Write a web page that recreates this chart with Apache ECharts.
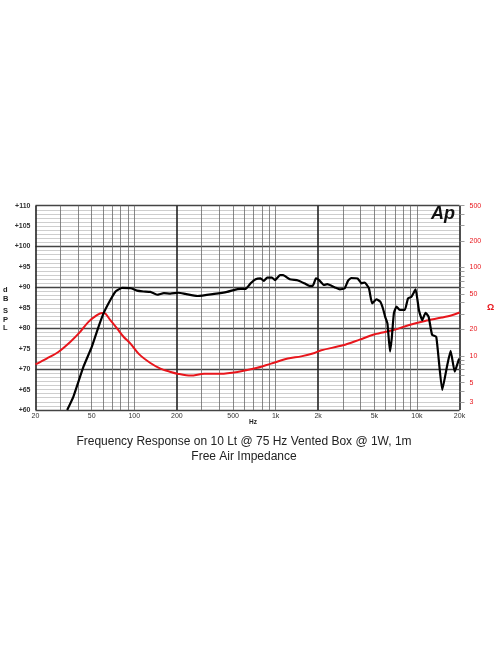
<!DOCTYPE html>
<html>
<head>
<meta charset="utf-8">
<script src="https://cdn.jsdelivr.net/npm/echarts@6/dist/echarts.min.js"></script>
<style>
html,body{margin:0;padding:0;background:#fff;}
#chart{width:496px;height:664px;}
</style>
</head>
<body>
<div id="chart"></div>
<script>
// SPL frequency response (Hz, dB)
const splFreq = [33.5, 37.1, 43.7, 50.1, 55.9, 60.7, 67.7, 73.7, 82, 94.5, 104.5, 116, 130, 145, 162, 180, 206, 230, 280, 367, 453, 537, 617, 666, 722, 783, 825, 872, 942, 990, 1073, 1130, 1260, 1440, 1600, 1734, 1830, 1930, 2030, 2200, 2320, 2630, 2850, 3080, 3250, 3420, 3800, 4050, 4270, 4570, 4820, 5160, 5500, 5740, 5960, 6180, 6450, 6630, 6870, 7170, 7560, 8200, 8640, 9130, 9780, 10320, 10900, 11500, 12100, 12800, 13700, 15100, 16300, 17300, 18500, 19800, 20000];
const splDb = [60, 63.3, 70.6, 75.5, 80.4, 83.7, 86.9, 89.0, 89.9, 89.8, 89.2, 89.0, 88.9, 88.2, 88.6, 88.5, 88.7, 88.4, 87.9, 88.4, 88.9, 89.6, 89.7, 91.0, 92.0, 92.2, 91.6, 92.4, 92.4, 91.8, 93.0, 93.0, 92.0, 91.7, 91.0, 90.4, 90.4, 92.2, 91.8, 90.6, 90.8, 90.0, 89.5, 89.8, 91.6, 92.3, 92.2, 91.0, 91.2, 89.8, 86.1, 87.1, 86.5, 84.9, 82.8, 81.2, 74.3, 77.5, 83.7, 85.3, 84.5, 84.5, 87.3, 87.7, 89.5, 84.5, 82.0, 83.8, 82.8, 78.4, 77.9, 64.9, 70.6, 74.5, 69.4, 72.4, 72.5];
// Free air impedance (Hz, ohm)
const impFreq = [20, 24, 29, 35.2, 41.4, 47.4, 54.4, 59.1, 62.4, 67.7, 75.5, 84.2, 94, 108, 130, 153, 181, 202, 251, 312, 409, 538, 706, 927, 1219, 1517, 1885, 2104, 2996, 3930, 5036, 6727, 8690, 11400, 15000, 17660, 20000];
const impOhm = [8.05, 9.35, 11.1, 14.4, 18.7, 24.3, 28.9, 30.7, 30.2, 25.4, 20.5, 16.4, 13.8, 10.5, 8.33, 7.2, 6.6, 6.3, 6.0, 6.3, 6.3, 6.6, 7.2, 8.2, 9.35, 9.9, 10.8, 11.6, 13.2, 15.3, 17.6, 19.5, 22.3, 24.9, 27.2, 28.9, 31];
// Tick labels
const splLabelValues = [60, 65, 70, 75, 80, 85, 90, 95, 100, 105, 110];
const freqLabelValues = [20, 50, 100, 200, 500, 1000, 2000, 5000, 10000, 20000];
const freqLabelTexts = ['20', '50', '100', '200', '500', '1k', '2k', '5k', '10k', '20k'];
const freqGridMinor = [30, 40, 50, 60, 70, 80, 90, 100, 300, 400, 500, 600, 700, 800, 900, 1000, 3000, 4000, 5000, 6000, 7000, 8000, 9000, 10000];
const freqGridMajor = [20, 200, 2000, 20000];
const impLabelValues = [3, 5, 10, 20, 50, 100, 200, 500];
const impTickValues = [3, 4, 5, 6, 7, 8, 9, 10, 20, 30, 40, 50, 60, 70, 80, 90, 100, 200, 300, 400, 500];
const splMin = 60, splMax = 110;
const fMin = 20, fMax = 20000;
const zMin = 2.45, zMax = 500;

const lg = Math.log10;
const chart = echarts.init(document.getElementById('chart'), null, {renderer: 'canvas'});
const labelFont = 'Liberation Sans, Arial, sans-serif';

function freqText(v) {
  let best = 0, bd = 1e9;
  freqLabelValues.forEach((f, i) => { const d = Math.abs(lg(f) - v); if (d < bd) { bd = d; best = i; } });
  return freqLabelTexts[best];
}

const option = {
  animation: false,
  backgroundColor: '#fff',
  grid: {left: 35.5, right: 36.5, top: 205.7, bottom: 254, containLabel: false, outerBoundsMode: 'none'},
  xAxis: [
    {
      type: 'value', min: lg(fMin), max: lg(fMax), position: 'bottom',
      axisLine: {show: false},
      axisTick: {show: false, customValues: freqGridMinor.map(lg)},
      splitLine: {show: true, lineStyle: {color: '#6a6a6a', width: 0.8}},
      axisLabel: {
        customValues: freqLabelValues.map(lg), formatter: freqText,
        fontFamily: labelFont, fontSize: 7, color: '#333', margin: 3
      }
    },
    {
      type: 'value', min: lg(fMin), max: lg(fMax), position: 'bottom',
      axisLine: {show: false},
      axisTick: {show: false, customValues: freqGridMajor.map(lg)},
      splitLine: {show: true, lineStyle: {color: '#222', width: 1.6}},
      axisLabel: {show: false}
    }
  ],
  yAxis: [
    {
      type: 'value', min: splMin, max: splMax, interval: 1, position: 'left',
      axisLine: {show: false}, axisTick: {show: false},
      splitLine: {show: true, lineStyle: {color: '#c2c2c2', width: 0.8}},
      axisLabel: {
        customValues: splLabelValues, formatter: v => '+' + v,
        fontFamily: labelFont, fontSize: 7, fontWeight: 'bold', color: '#333', margin: 5
      }
    },
    {
      type: 'value', min: splMin, max: splMax, interval: 10, position: 'left',
      axisLine: {show: false}, axisTick: {show: false}, axisLabel: {show: false},
      splitLine: {show: true, lineStyle: {color: '#444', width: 1.4}}
    },
    {
      type: 'value', min: lg(zMin), max: lg(zMax), position: 'right',
      name: 'Ω', nameLocation: 'middle', nameGap: 26, nameRotate: 0,
      nameTextStyle: {color: '#e8161c', fontFamily: labelFont, fontSize: 9, fontWeight: 'bold'},
      axisLine: {show: false},
      axisTick: {show: true, length: 5, customValues: impTickValues.map(lg), lineStyle: {color: '#888', width: 0.8}},
      splitLine: {show: false},
      axisLabel: {
        customValues: impLabelValues.map(lg),
        formatter: v => String(Math.round(Math.pow(10, v))),
        fontFamily: labelFont, fontSize: 7, color: '#e8161c', margin: 10
      }
    }
  ],
  graphic: [
    {type: 'text', x: 244, y: 434, style: {text: 'Frequency Response on 10 Lt @ 75 Hz Vented Box @ 1W, 1m\nFree Air Impedance', textAlign: 'center', fontFamily: labelFont, fontSize: 12, fill: '#222', lineHeight: 15}},
    {type: 'text', left: 3, top: 285, style: {text: 'd\nB', fontFamily: labelFont, fontSize: 7.5, fontWeight: 'bold', fill: '#222', lineHeight: 9, align: 'left'}},
    {type: 'text', left: 3, top: 307, style: {text: 'S\nP\nL', fontFamily: labelFont, fontSize: 7.5, fontWeight: 'bold', fill: '#222', lineHeight: 8.5, align: 'left'}},
    {type: 'text', left: 249, top: 419, style: {text: 'Hz', fontFamily: labelFont, fontSize: 6.5, fontWeight: 'bold', fill: '#222'}},
    {type: 'text', left: 431, top: 205, z: 10, style: {text: 'Ap', fontFamily: labelFont, fontSize: 18, fontWeight: 'bold', fontStyle: 'italic', fill: '#111'}}
  ],
  series: [
    {
      name: 'Impedance', type: 'line', xAxisIndex: 0, yAxisIndex: 2,
      data: impFreq.map((f, i) => [lg(f), lg(impOhm[i])]),
      smooth: 0.3, symbol: 'none', clip: true,
      lineStyle: {color: '#e8161c', width: 2}
    },
    {
      name: 'SPL', type: 'line', xAxisIndex: 0, yAxisIndex: 0,
      data: splFreq.map((f, i) => [lg(f), splDb[i]]),
      smooth: 0.15, symbol: 'none', clip: true,
      lineStyle: {color: '#000', width: 2.2}
    }
  ]
};
chart.setOption(option);
</script>
</body>
</html>
